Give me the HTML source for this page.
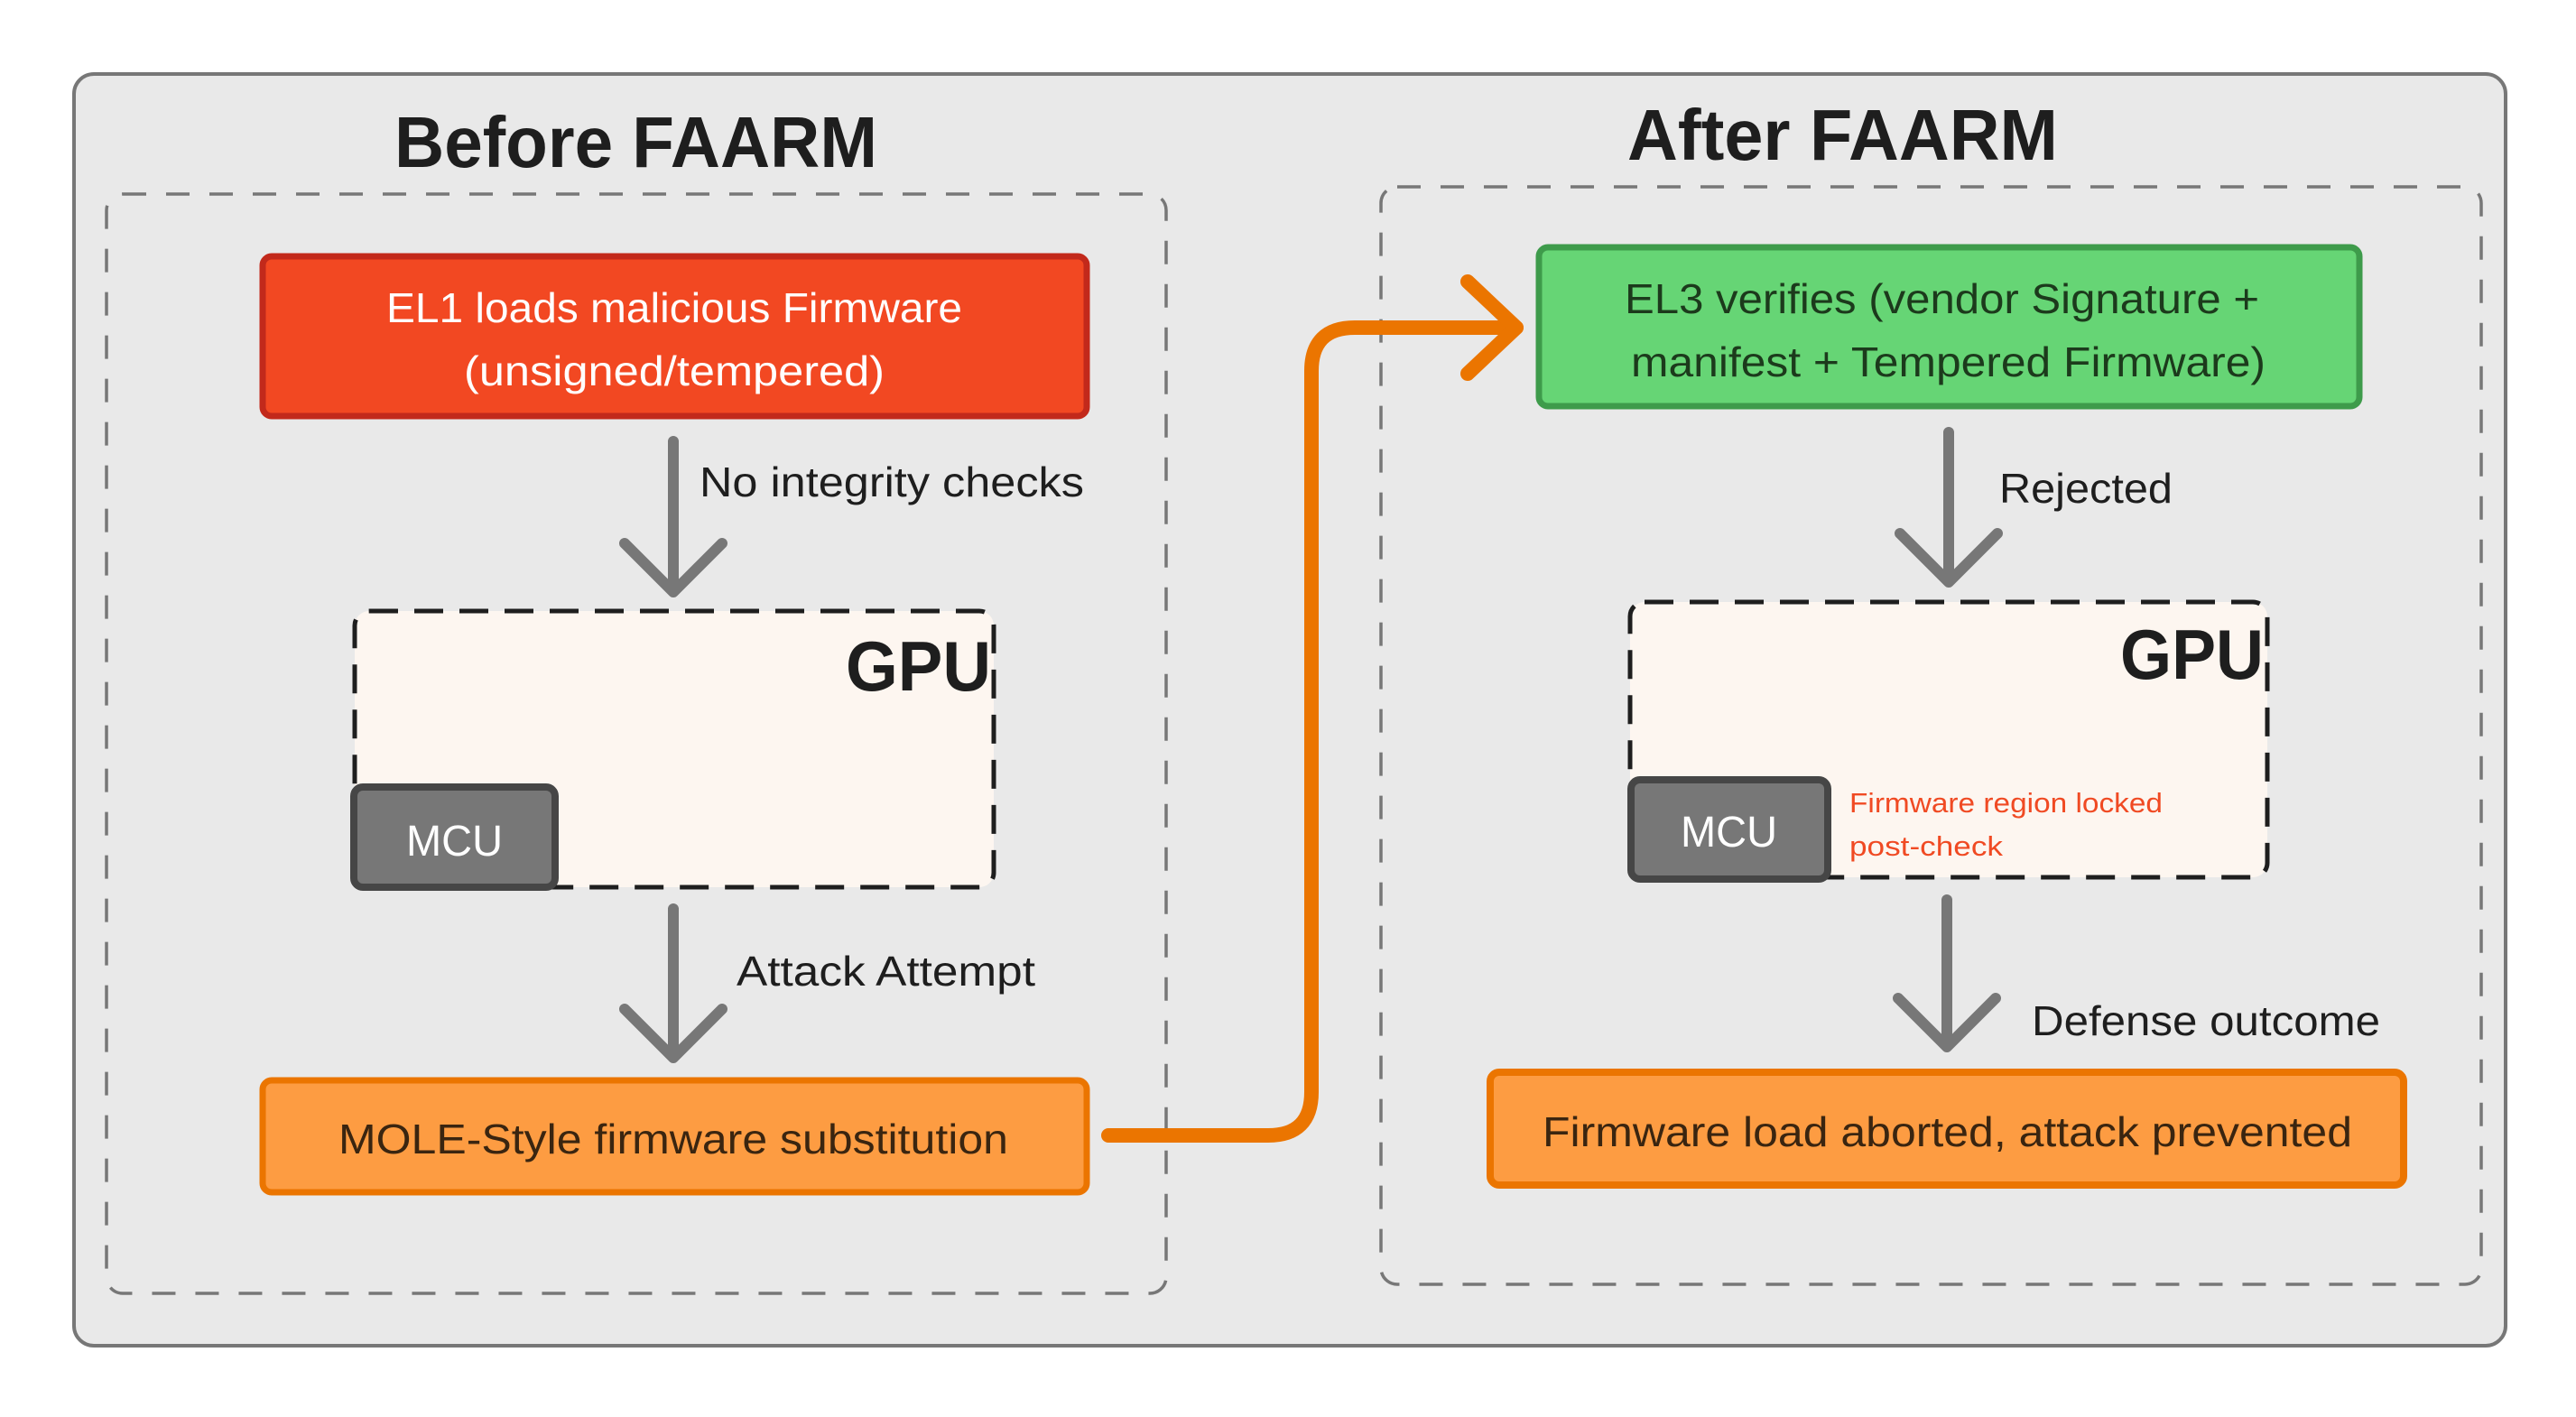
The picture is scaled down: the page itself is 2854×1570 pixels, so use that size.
<!DOCTYPE html>
<html><head><meta charset="utf-8"><style>
html,body{margin:0;padding:0;background:#fff}
svg{display:block}
text{font-family:"Liberation Sans",sans-serif}
</style></head><body>
<svg width="2854" height="1570" viewBox="0 0 2854 1570" xmlns="http://www.w3.org/2000/svg">
<rect x="0" y="0" width="2854" height="1570" fill="#fff"/>
<rect x="82" y="82" width="2694" height="1409" rx="22" fill="#e9e9e9" stroke="#777" stroke-width="4"/>

<!-- dashed containers -->
<rect x="118" y="215" width="1174" height="1218" rx="18" fill="none" stroke="#777" stroke-width="3.5" stroke-dasharray="26,22"/>
<rect x="1530" y="207" width="1219" height="1216" rx="18" fill="none" stroke="#777" stroke-width="3.5" stroke-dasharray="26,22"/>

<!-- titles -->
<text x="437" y="185" font-size="80" font-weight="bold" fill="#1e1e1e" textLength="535" lengthAdjust="spacingAndGlyphs">Before FAARM</text>
<text x="1803" y="177" font-size="80" font-weight="bold" fill="#1e1e1e" textLength="477" lengthAdjust="spacingAndGlyphs">After FAARM</text>

<!-- EL1 box -->
<rect x="291" y="284" width="913" height="177" rx="10" fill="#f24822" stroke="#c2291b" stroke-width="7"/>
<text x="428" y="357" font-size="46" fill="#fff" textLength="638" lengthAdjust="spacingAndGlyphs">EL1 loads malicious Firmware</text>
<text x="514" y="427" font-size="46" fill="#fff" textLength="466" lengthAdjust="spacingAndGlyphs">(unsigned/tempered)</text>

<!-- arrows gray -->
<g stroke="#777" stroke-width="12" stroke-linecap="round" stroke-linejoin="round" fill="none">
<path d="M746 489 V656 M692 602 L746 656 L800 602"/>
<path d="M746 1007 V1172 M692 1118 L746 1172 L800 1118"/>
<path d="M2159 479 V645 M2105 591 L2159 645 L2213 591"/>
<path d="M2157 997 V1160 M2103 1106 L2157 1160 L2211 1106"/>
</g>

<text x="775" y="550" font-size="46" fill="#1e1e1e" textLength="426" lengthAdjust="spacingAndGlyphs">No integrity checks</text>
<text x="816" y="1092" font-size="46" fill="#1e1e1e" textLength="331" lengthAdjust="spacingAndGlyphs">Attack Attempt</text>
<text x="2215" y="557" font-size="46" fill="#1e1e1e" textLength="192" lengthAdjust="spacingAndGlyphs">Rejected</text>
<text x="2251" y="1147" font-size="46" fill="#1e1e1e" textLength="386" lengthAdjust="spacingAndGlyphs">Defense outcome</text>

<!-- GPU boxes -->
<rect x="393" y="677" width="708" height="306" rx="16" fill="#fdf6f0" stroke="#1e1e1e" stroke-width="5" stroke-dasharray="32,18"/>
<text x="937" y="765" font-size="78" font-weight="bold" fill="#1e1e1e" textLength="161" lengthAdjust="spacingAndGlyphs">GPU</text>
<rect x="392" y="872" width="223" height="111" rx="10" fill="#777" stroke="#464646" stroke-width="8"/>
<text x="450" y="948" font-size="48" fill="#fff" textLength="107" lengthAdjust="spacingAndGlyphs">MCU</text>

<rect x="1806" y="667" width="706" height="305" rx="16" fill="#fdf6f0" stroke="#1e1e1e" stroke-width="5" stroke-dasharray="32,18"/>
<text x="2349" y="752" font-size="78" font-weight="bold" fill="#1e1e1e" textLength="159" lengthAdjust="spacingAndGlyphs">GPU</text>
<rect x="1807" y="864" width="218" height="110" rx="10" fill="#777" stroke="#464646" stroke-width="8"/>
<text x="1862" y="938" font-size="48" fill="#fff" textLength="107" lengthAdjust="spacingAndGlyphs">MCU</text>
<text x="2049" y="900" font-size="31" fill="#f04a23" textLength="347" lengthAdjust="spacingAndGlyphs">Firmware region locked</text>
<text x="2049" y="948" font-size="31" fill="#f04a23" textLength="170" lengthAdjust="spacingAndGlyphs">post-check</text>

<!-- MOLE box -->
<rect x="291" y="1197" width="913" height="124" rx="10" fill="#fd9c42" stroke="#eb7500" stroke-width="7"/>
<text x="375" y="1278" font-size="46" fill="#3a2510" textLength="742" lengthAdjust="spacingAndGlyphs">MOLE-Style firmware substitution</text>

<!-- EL3 box -->
<rect x="1705" y="274" width="909" height="176" rx="10" fill="#66d575" stroke="#3e9b4b" stroke-width="7"/>
<text x="1800" y="347" font-size="46" fill="#1c3a1c" textLength="703" lengthAdjust="spacingAndGlyphs">EL3 verifies (vendor Signature +</text>
<text x="1807" y="417" font-size="46" fill="#1c3a1c" textLength="703" lengthAdjust="spacingAndGlyphs">manifest + Tempered Firmware)</text>

<!-- Firmware aborted box -->
<rect x="1651" y="1188" width="1012" height="125" rx="10" fill="#fd9c42" stroke="#eb7500" stroke-width="8"/>
<text x="1709" y="1270" font-size="46" fill="#3a2510" textLength="897" lengthAdjust="spacingAndGlyphs">Firmware load aborted, attack prevented</text>

<!-- orange connector -->
<g stroke="#eb7500" stroke-width="16" stroke-linecap="round" stroke-linejoin="round" fill="none">
<path d="M1228 1258 H1405 Q1453 1258 1453 1210 V411 Q1453 363 1501 363 H1680"/>
<path d="M1626 312 L1680 363 L1626 414"/>
</g>
</svg>
</body></html>
